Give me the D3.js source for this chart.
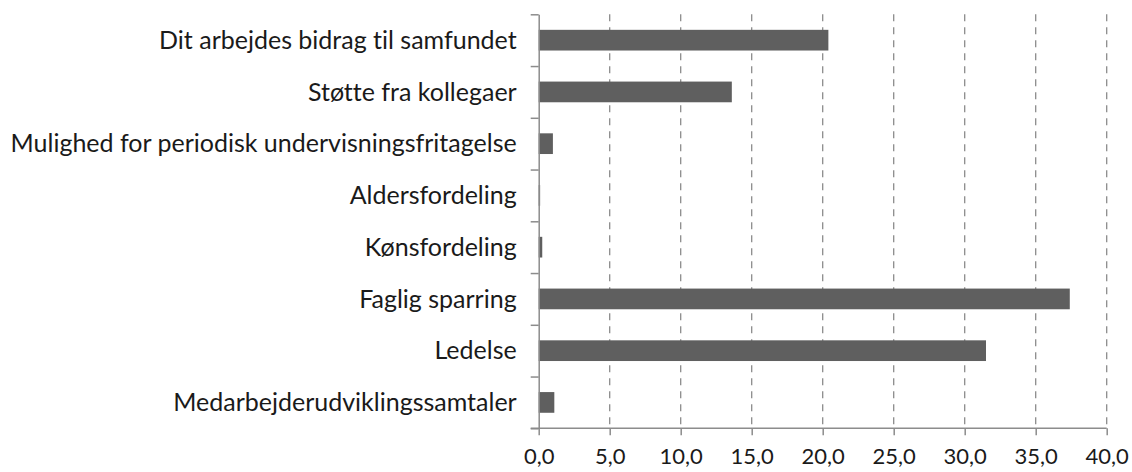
<!DOCTYPE html>
<html>
<head>
<meta charset="utf-8">
<script src="https://cdn.jsdelivr.net/npm/d3@7"></script>
<style>
  body { margin: 0; background: #fff; }
  svg text { font-family: Lato, "Open Sans", sans-serif; fill: #1a1a1a; font-variant-ligatures: none; }
</style>
</head>
<body>
<script>
// kategorier og værdier (læst af billedet)
var categories = [
    "Dit arbejdes bidrag til samfundet",
    "Støtte fra kollegaer",
    "Mulighed for periodisk undervisningsfritagelse",
    "Aldersfordeling",
    "Kønsfordeling",
    "Faglig sparring",
    "Ledelse",
    "Medarbejderudviklingssamtaler"
];
var values = [20.4, 13.6, 1.0, 0.1, 0.25, 37.4, 31.5, 1.1];
var xTicks = [0, 5, 10, 15, 20, 25, 30, 35, 40];

var width = 1132, height = 472;
var plotLeft = 538.7, plotRight = 1106.7, plotTop = 14.3, plotBottom = 428.3;

var svg = d3.select("body").append("svg")
    .attr("width", width)
    .attr("height", height);

// skalaer
var xScale = d3.scaleLinear().domain([0, 40]).range([plotLeft, plotRight]);
var yScale = d3.scaleBand()
    .domain(categories)
    .range([plotTop, plotBottom])
    .paddingInner(0.6)
    .paddingOuter(0.3);
var yEdges = d3.scaleLinear().domain([0, categories.length]).range([plotTop, plotBottom]);

// stiplede gitterlinjer
svg.selectAll("line.grid")
    .data(xTicks.filter(function (d) { return d > 0; }))
    .enter().append("line")
    .attr("class", "grid")
    .attr("x1", function (d) { return xScale(d); })
    .attr("x2", function (d) { return xScale(d); })
    .attr("y1", plotTop)
    .attr("y2", plotBottom)
    .attr("stroke", "#8c8c8c")
    .attr("stroke-width", 1.3)
    .attr("stroke-dasharray", "7,6");

// staplerne
svg.selectAll("rect.bar")
    .data(values)
    .enter().append("rect")
    .attr("class", "bar")
    .attr("x", xScale(0))
    .attr("y", function (d, i) { return yScale(categories[i]); })
    .attr("width", function (d) { return xScale(d) - xScale(0); })
    .attr("height", yScale.bandwidth())
    .attr("fill", "#5f5f5f");

// x-akse
var xAxis = svg.append("g")
    .attr("transform", "translate(0," + plotBottom + ")")
    .call(d3.axisBottom(xScale)
        .tickValues(xTicks)
        .tickSize(7)
        .tickPadding(13)
        .tickFormat(function (d) { return d3.format(".1f")(d).replace(".", ","); }));
xAxis.select(".domain").attr("stroke", "#8c8c8c").attr("stroke-width", 1.5)
    .attr("d", "M" + (plotLeft - 8) + ",0H" + plotRight);
xAxis.selectAll(".tick line").attr("stroke", "#8c8c8c").attr("stroke-width", 1.5);
xAxis.selectAll(".tick text").style("font-size", "22px").attr("fill", "#1a1a1a");

// y-akse
var yAxis = svg.append("g")
    .attr("transform", "translate(" + plotLeft + ",0)")
    .call(d3.axisLeft(yEdges)
        .tickValues(d3.range(categories.length + 1))
        .tickSize(8)
        .tickSizeOuter(0)
        .tickFormat(""));
yAxis.select(".domain").attr("stroke", "#8c8c8c").attr("stroke-width", 1.5);
yAxis.selectAll(".tick line").attr("stroke", "#8c8c8c").attr("stroke-width", 1.5);

// kategorinavne
svg.selectAll("text.cat")
    .data(categories)
    .enter().append("text")
    .attr("class", "cat")
    .attr("x", plotLeft - 22)
    .attr("y", function (d) { return yScale(d) + yScale.bandwidth() / 2; })
    .attr("dy", "0.35em")
    .attr("text-anchor", "end")
    .style("font-size", "25px")
    .text(function (d) { return d; });
</script>
</body>
</html>
